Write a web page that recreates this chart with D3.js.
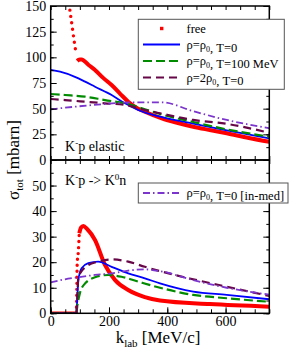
<!DOCTYPE html>
<head>
  <style>
    body { margin: 0; background: #fff; }
    svg text { font-family: "Liberation Serif", "Times New Roman", "DejaVu Serif", serif !important; }
  </style>
  <title>K-p cross sections</title>
</head>
<body>
  <script src="https://cdn.jsdelivr.net/npm/d3@7/dist/d3.min.js"></script>
  <script>
    // ---- data: [k_lab (MeV/c), sigma (mbarn)] ----
    // upper panel: K-p elastic
    var elFreeSteep = [[58, 165], [64, 150], [73, 131.5], [80, 117], [87, 104]];
    var elFree = [[91, 96.4], [95, 97.4], [100, 98], [106, 98], [130, 92.5], [152, 87.7], [180, 80],
                  [209, 73], [240, 64], [266, 56.8], [300, 50], [323, 47], [381, 40.6], [430, 36.5],
                  [489, 32.4], [550, 29], [604, 26], [680, 21.5], [750, 17.8]];
    var elRho0 = [[0, 87.7], [32, 86], [83, 81], [118, 76.3], [152, 71.4], [209, 63.3], [255, 55.2],
                  [300, 48.7], [375, 42.2], [489, 35.5], [604, 28.8], [750, 21]];
    var elT100 = [[0, 64.3], [49, 63.3], [118, 61.7], [186, 58.4], [255, 55.2], [323, 49.4],
                  [375, 44.8], [489, 37], [604, 29.8], [750, 22.7]];
    var el2Rho0 = [[0, 59.4], [49, 58.4], [118, 56.8], [186, 55.2], [255, 53.6], [323, 48.7],
                   [375, 45.5], [489, 39], [604, 35.2], [750, 26.5]];
    var elInMed = [[0, 49.4], [83, 51.9], [186, 54.5], [278, 56.2], [381, 56.2], [489, 47.5],
                   [604, 39], [750, 31]];

    // lower panel: K-p -> K0n
    var cxFreeZero = [[0, 0], [88, 0]];
    var cxFreeSteep = [[88, 0], [89, 5], [91, 19.6], [95, 24.4], [98, 31.3]];
    var cxFree = [[98, 31.3], [104, 33.5], [112, 34.2], [125, 33], [152, 28.7], [186, 19],
                  [221, 13], [266, 9.1], [323, 6.3], [375, 5], [546, 3.6], [750, 2.6]];
    var cxRho0 = [[0, 0], [88, 0], [91, 5.2], [95, 13], [106, 17.6], [129, 19.6], [163, 20.2],
                  [209, 18.2], [266, 15.6], [323, 13.7], [375, 11.7], [489, 8.5], [604, 7.2], [750, 5.5]];
    var cxT100 = [[0, 0], [88, 0], [91, 2.6], [100, 7.8], [118, 11.7], [152, 14.1], [198, 15],
                  [243, 14.3], [300, 12.4], [375, 10], [489, 7.2], [604, 5.9], [750, 4.5]];
    var cx2Rho0 = [[0, 0], [88, 0], [91, 6], [95, 14.3], [129, 18.9], [163, 20.2], [209, 21.1],
                   [266, 20.2], [323, 18.2], [375, 16.5], [489, 13.3], [604, 10.4], [750, 6.8]];
    var cxInMed = [[0, 12.1], [49, 13.3], [95, 14.1], [152, 15], [209, 15.6], [266, 16.7],
                   [323, 17.2], [375, 16.5], [489, 13], [604, 10], [750, 7.3]];

    var xTicks = [0, 200, 400, 600];
    var yTopTicks = [0, 25, 50, 75, 100, 125, 150];
    var yBotTicks = [0, 10, 20, 30, 40, 50];

    // ---- layout ----
    var width = 290, height = 354;
    var left = 50.7, right = 269.3;
    var topY = 6, midY = 160, botY = 313.3;
    var serif = "'Liberation Serif', 'Times New Roman', serif";

    var red = "#ff0000", blue = "#0000ff", green = "#008b00", maroon = "#670748", violet = "#7b35cc";

    var x = d3.scaleLinear().domain([0, 750]).range([left, right]);
    var yTop = d3.scaleLinear().domain([0, 150]).range([midY, topY]);
    var yBot = d3.scaleLinear().domain([0, 60]).range([botY, midY]);

    var svg = d3.select("body").append("svg")
      .attr("width", width)
      .attr("height", height)
      .attr("font-family", serif);

    var defs = svg.append("defs");
    defs.append("clipPath").attr("id", "clipTop").append("rect")
      .attr("x", left).attr("y", topY).attr("width", right - left).attr("height", midY - topY);
    defs.append("clipPath").attr("id", "clipBot").append("rect")
      .attr("x", left).attr("y", midY).attr("width", right - left).attr("height", botY - midY);

    function drawLine(g, yScale, data, color, w, dash, cap) {
      var line = d3.line()
        .x(function (d) { return x(d[0]); })
        .y(function (d) { return yScale(d[1]); })
        .curve(d3.curveMonotoneX);
      g.append("path")
        .datum(data)
        .attr("d", line)
        .attr("fill", "none")
        .attr("stroke", color)
        .attr("stroke-width", w)
        .attr("stroke-linecap", cap || "butt")
        .attr("stroke-dasharray", dash || null);
    }

    // ---- curves ----
    var gTop = svg.append("g").attr("clip-path", "url(#clipTop)");
    drawLine(gTop, yTop, elFreeSteep, red, 3.4, "0,6.5", "round");
    drawLine(gTop, yTop, elFree, red, 4);
    drawLine(gTop, yTop, elRho0, blue, 1.8);
    drawLine(gTop, yTop, elT100, green, 2.2, "9,4");
    drawLine(gTop, yTop, el2Rho0, maroon, 2.2, "8,5");
    drawLine(gTop, yTop, elInMed, violet, 1.8, "7,3,1.5,3");

    var gBot = svg.append("g").attr("clip-path", "url(#clipBot)");
    drawLine(gBot, yBot, cxFreeZero, red, 3.4);
    drawLine(gBot, yBot, cxFreeSteep, red, 3.4, "0,6", "round");
    drawLine(gBot, yBot, cxFree, red, 4);
    drawLine(gBot, yBot, cxRho0, blue, 1.8);
    drawLine(gBot, yBot, cxT100, green, 2.2, "9,4");
    drawLine(gBot, yBot, cx2Rho0, maroon, 2.2, "8,5");
    drawLine(gBot, yBot, cxInMed, violet, 1.8, "7,3,1.5,3");

    // ---- axes (ticks pointing inward) ----
    var xMinor = d3.range(0, 751, 50);
    function styleAxis(g) {
      g.attr("font-family", serif);
      g.select(".domain").remove();
      g.selectAll("line").attr("stroke", "#000").attr("stroke-width", 1);
      g.selectAll("text").attr("font-size", "14px").attr("fill", "#000");
    }
    function addAxis(axis, tx, ty) {
      var g = svg.append("g").attr("transform", "translate(" + tx + "," + ty + ")").call(axis);
      styleAxis(g);
      return g;
    }
    // x axes: bottom of lower, top of upper, both sides of divider
    addAxis(d3.axisBottom(x).tickValues(xMinor).tickSize(-4).tickFormat(""), 0, botY);
    addAxis(d3.axisBottom(x).tickValues(xTicks).tickSize(-6).tickPadding(3).tickFormat(d3.format("d")), 0, botY);
    addAxis(d3.axisTop(x).tickValues(xMinor).tickSize(-4).tickFormat(""), 0, topY);
    addAxis(d3.axisBottom(x).tickValues(xMinor).tickSize(-4).tickFormat(""), 0, midY);
    addAxis(d3.axisTop(x).tickValues(xMinor).tickSize(-4).tickFormat(""), 0, midY);

    // y axes upper
    addAxis(d3.axisLeft(yTop).tickValues(d3.range(0, 151, 12.5)).tickSize(-3).tickFormat(""), left, 0);
    addAxis(d3.axisLeft(yTop).tickValues(yTopTicks).tickSize(-6).tickPadding(4.5).tickFormat(d3.format("d")), left, 0);
    addAxis(d3.axisRight(yTop).tickValues(d3.range(0, 151, 12.5)).tickSize(-3).tickFormat(""), right, 0);
    addAxis(d3.axisRight(yTop).tickValues(yTopTicks).tickSize(-6).tickFormat(""), right, 0);
    // y axes lower
    addAxis(d3.axisLeft(yBot).tickValues(d3.range(0, 61, 5)).tickSize(-3).tickFormat(""), left, 0);
    addAxis(d3.axisLeft(yBot).tickValues(yBotTicks).tickSize(-6).tickPadding(4.5).tickFormat(d3.format("d")), left, 0);
    addAxis(d3.axisRight(yBot).tickValues(d3.range(0, 61, 5)).tickSize(-3).tickFormat(""), right, 0);
    addAxis(d3.axisRight(yBot).tickValues(yBotTicks).tickSize(-6).tickFormat(""), right, 0);

    // frames
    svg.append("rect").attr("x", left).attr("y", topY).attr("width", right - left).attr("height", midY - topY)
      .attr("fill", "none").attr("stroke", "#000").attr("stroke-width", 1.5);
    svg.append("rect").attr("x", left).attr("y", midY).attr("width", right - left).attr("height", botY - midY)
      .attr("fill", "none").attr("stroke", "#000").attr("stroke-width", 1.5);

    // ---- axis labels ----
    var yl = svg.append("text")
      .attr("transform", "translate(19,160) rotate(-90)")
      .attr("text-anchor", "middle")
      .attr("font-size", "17px");
    yl.append("tspan").text("\u03c3");
    yl.append("tspan").attr("font-size", "11px").attr("dy", 4).text("tot");
    yl.append("tspan").attr("dy", -4).text(" [mbarn]");

    var xl = svg.append("text")
      .attr("x", 158).attr("y", 343)
      .attr("text-anchor", "middle")
      .attr("font-size", "17px");
    xl.append("tspan").text("k");
    xl.append("tspan").attr("font-size", "11px").attr("dy", 4).text("lab");
    xl.append("tspan").attr("dy", -4).text(" [MeV/c]");

    // ---- panel labels ----
    var pl1 = svg.append("text").attr("x", 65).attr("y", 151).attr("font-size", "14px");
    pl1.append("tspan").text("K");
    pl1.append("tspan").attr("font-size", "9px").attr("dy", -5).text("-");
    pl1.append("tspan").attr("dy", 5).text("p elastic");

    var pl2 = svg.append("text").attr("x", 65).attr("y", 185).attr("font-size", "14px");
    pl2.append("tspan").text("K");
    pl2.append("tspan").attr("font-size", "9px").attr("dy", -5).text("-");
    pl2.append("tspan").attr("dy", 5).text("p -> K");
    pl2.append("tspan").attr("font-size", "9px").attr("dy", -5).text("0");
    pl2.append("tspan").attr("dy", 5).text("n");

    // ---- legends ----
    function legendText(g, tx, ty, parts) {
      var t = g.append("text").attr("x", tx).attr("y", ty).attr("font-size", "12.5px");
      parts.forEach(function (p) {
        if (typeof p === "object") {
          t.append("tspan").attr("font-size", "8px").attr("dy", 3).text(p.low);
          t.append("tspan").attr("dy", -3).text("");
        } else {
          t.append("tspan").text(p);
        }
      });
    }
    var lg = svg.append("g");
    lg.append("rect").attr("x", 138.3).attr("y", 19.3).attr("width", 146).attr("height", 70)
      .attr("fill", "#fff").attr("stroke", "#555").attr("stroke-width", 1);
    var rows = [
      { y: 28.5, color: red, parts: ["free"] },
      { y: 44.5, color: blue, w: 1.8, dash: null, parts: ["\u03c1=\u03c1", { low: "0" }, ", T=0"] },
      { y: 61, color: green, w: 2.2, dash: "9,4", parts: ["\u03c1=\u03c1", { low: "0" }, ", T=100 MeV"] },
      { y: 77.5, color: maroon, w: 2.2, dash: "8,5", parts: ["\u03c1=2\u03c1", { low: "0" }, ", T=0"] }
    ];
    rows.forEach(function (r, i) {
      if (i === 0) {
        lg.append("rect").attr("x", 160).attr("y", r.y - 1.7).attr("width", 3.4).attr("height", 3.4).attr("fill", red);
      } else {
        lg.append("line").attr("x1", 143).attr("x2", 180).attr("y1", r.y).attr("y2", r.y)
          .attr("stroke", r.color).attr("stroke-width", r.w).attr("stroke-dasharray", r.dash);
      }
      legendText(lg, 186.5, r.y + 4, r.parts);
    });

    var lg2 = svg.append("g");
    lg2.append("rect").attr("x", 138.3).attr("y", 183).attr("width", 149.7).attr("height", 20)
      .attr("fill", "#fff").attr("stroke", "#555").attr("stroke-width", 1);
    lg2.append("line").attr("x1", 143).attr("x2", 180).attr("y1", 193).attr("y2", 193)
      .attr("stroke", violet).attr("stroke-width", 1.8).attr("stroke-dasharray", "7,3,1.5,3");
    legendText(lg2, 186.5, 197, ["\u03c1=\u03c1", { low: "0" }, ", T=0 [in-med]"]);
  </script>
</body>
